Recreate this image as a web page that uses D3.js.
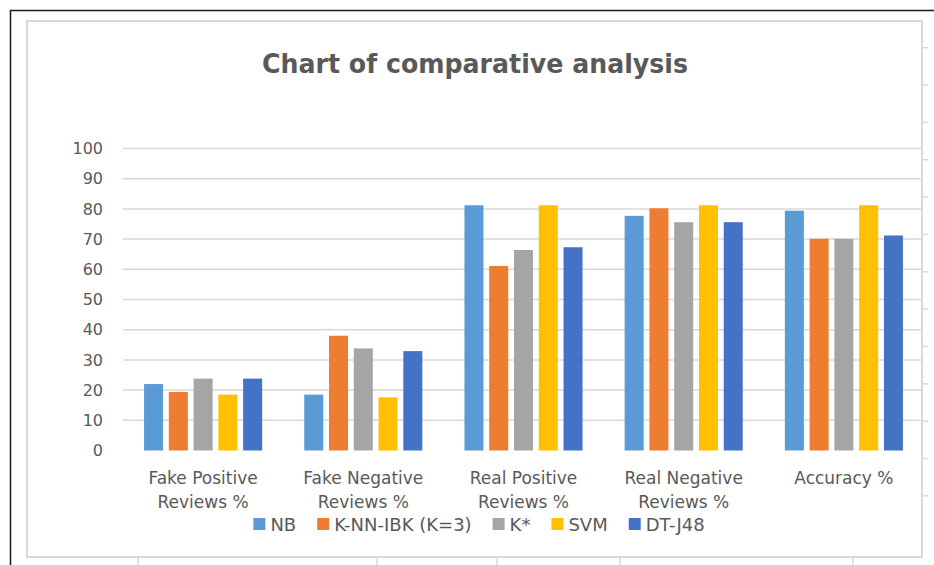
<!DOCTYPE html>
<html>
<head>
<meta charset="utf-8">
<script src="https://cdn.jsdelivr.net/npm/d3@7"></script>
<style>
  body { margin: 0; background: #fff; }
  text { font-family: "DejaVu Sans", sans-serif; fill: #595959; }
</style>
</head>
<body>
<div id="chart"></div>
<script>
// values
var categories = ["Fake Positive Reviews %", "Fake Negative Reviews %", "Real Positive Reviews %", "Real Negative Reviews %", "Accuracy %"]
var series = ["NB", "K-NN-IBK (K=3)", "K*", "SVM", "DT-J48"]
var colors = ["#5b9bd5", "#ed7d31", "#a5a5a5", "#ffc000", "#4472c4"]

var nb = [22, 18.5, 81.2, 77.7, 79.4]
var knn = [19.4, 38, 61.1, 80.2, 70.1]
var kstar = [23.8, 33.8, 66.4, 75.6, 70.1]
var svm = [18.5, 17.6, 81.2, 81.2, 81.2]
var dt = [23.8, 32.9, 67.3, 75.6, 71.2]

var yTicks = [0, 10, 20, 30, 40, 50, 60, 70, 80, 90, 100]

var values = [nb, knn, kstar, svm, dt]

var width = 934
var height = 565

var svg = d3.select("#chart")
  .append("svg")
  .attr("width", width)
  .attr("height", height)

// outer frame (black) and chart border with the sheet's cell ticks
svg.append("path")
  .attr("d", "M10.5,565 V10.5 H934")
  .attr("fill", "none")
  .attr("stroke", "#1a1a1a")
  .attr("stroke-width", 1.5)

var cellRows = d3.range(13).map(function (i) { return 47.7 + i * 37.35 })
svg.selectAll(".rowtick")
  .data(cellRows)
  .enter()
  .append("line")
  .attr("x1", 922).attr("x2", 928)
  .attr("y1", function (d) { return d }).attr("y2", function (d) { return d })
  .attr("stroke", "#d9d9d9")
  .attr("stroke-width", 1.5)

svg.selectAll(".coltick")
  .data([138, 377, 497, 620, 853])
  .enter()
  .append("line")
  .attr("x1", function (d) { return d }).attr("x2", function (d) { return d })
  .attr("y1", 558).attr("y2", 565)
  .attr("stroke", "#d9d9d9")
  .attr("stroke-width", 1.5)

svg.append("rect")
  .attr("x", 27)
  .attr("y", 21)
  .attr("width", 895)
  .attr("height", 536)
  .attr("fill", "#fff")
  .attr("stroke", "#d9d9d9")
  .attr("stroke-width", 2)

// title
svg.append("text")
  .attr("x", 475)
  .attr("y", 73)
  .attr("text-anchor", "middle")
  .style("font-size", "27px")
  .style("font-weight", "bold")
  .attr("textLength", 426)
  .attr("lengthAdjust", "spacingAndGlyphs")
  .text("Chart of comparative analysis")

// scales
var x0 = d3.scaleBand()
  .domain(categories)
  .range([123, 924])

var x1 = d3.scaleBand()
  .domain(series)
  .range([0, x0.bandwidth()])
  .paddingInner(0.232)
  .paddingOuter(0.85)

var y = d3.scaleLinear()
  .domain([0, 100])
  .range([450.5, 148.5])

// gridlines
svg.append("g")
  .selectAll("line")
  .data(yTicks.filter(function (d) { return d > 0 }))
  .enter()
  .append("line")
  .attr("x1", 123)
  .attr("x2", 921)
  .attr("y1", function (d) { return y(d) })
  .attr("y2", function (d) { return y(d) })
  .attr("stroke", "#d9d9d9")
  .attr("stroke-width", 1.5)

// y axis labels
var yAxis = d3.axisLeft(y).tickValues(yTicks).tickSize(0).tickPadding(0)
var gy = svg.append("g")
  .attr("transform", "translate(103,0)")
  .call(yAxis)
gy.select(".domain").remove()
gy.selectAll("text")
  .style("font-size", "16px")
  .style("font-family", "DejaVu Sans, sans-serif")
  .attr("fill", "#595959")

// bars
var groups = svg.append("g")
  .selectAll("g")
  .data(categories)
  .enter()
  .append("g")
  .attr("transform", function (d) { return "translate(" + x0(d) + ",0)" })

groups.selectAll("rect")
  .data(function (d, i) {
    return series.map(function (s, j) { return { key: s, value: values[j][i], color: colors[j] } })
  })
  .enter()
  .append("rect")
  .attr("x", function (d) { return x1(d.key) })
  .attr("width", x1.bandwidth())
  .attr("y", function (d) { return y(d.value) })
  .attr("height", function (d) { return y(0) - y(d.value) })
  .attr("fill", function (d) { return d.color })

// category labels, wrapped in two lines
var xl = svg.append("g")
  .selectAll("text")
  .data(categories)
  .enter()
  .append("text")
  .attr("text-anchor", "middle")
  .attr("x", function (d) { return x0(d) + x0.bandwidth() / 2 })
  .attr("y", 484)
  .style("font-size", "17px")

xl.each(function (d) {
  var words = d.split(" ")
  var lines = words.length > 2 ? [words.slice(0, 2).join(" "), words.slice(2).join(" ")] : [d]
  var t = d3.select(this)
  lines.forEach(function (line, i) {
    t.append("tspan")
      .attr("x", x0(d) + x0.bandwidth() / 2)
      .attr("dy", i == 0 ? 0 : 24)
      .text(line)
  })
})

// legend
var legend = svg.append("g")
var items = legend.selectAll("g")
  .data(series)
  .enter()
  .append("g")

items.append("rect")
  .attr("width", 12)
  .attr("height", 12)
  .attr("y", 518)
  .attr("fill", function (d, i) { return colors[i] })

items.append("text")
  .attr("x", 17)
  .attr("y", 531)
  .style("font-size", "18px")
  .text(function (d) { return d })

var pos = 0
items.each(function () {
  var w = this.querySelector("text").getComputedTextLength()
  d3.select(this).attr("transform", "translate(" + pos + ",0)")
  pos += 17 + w + 21
})
pos -= 21
legend.attr("transform", "translate(" + (479 - pos / 2) + ",0)")
</script>
</body>
</html>
